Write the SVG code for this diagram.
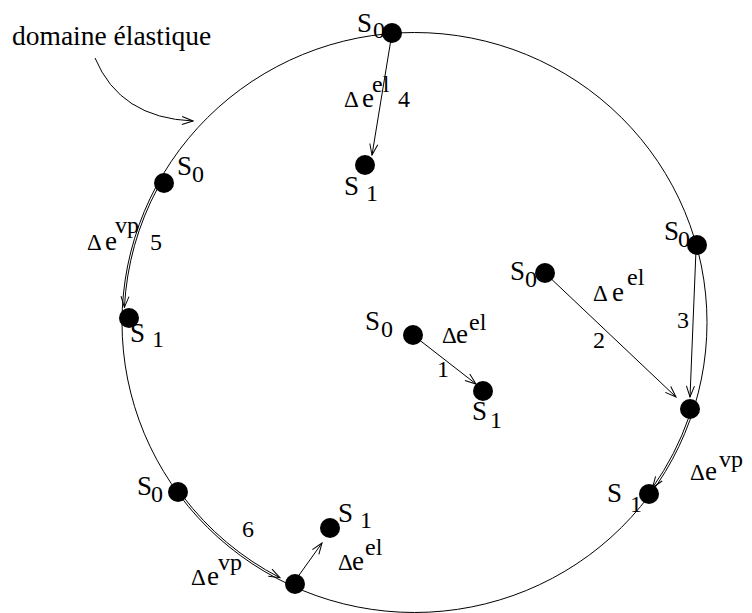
<svg xmlns="http://www.w3.org/2000/svg" width="752" height="613" viewBox="0 0 752 613" font-family="'Liberation Serif', 'DejaVu Serif', 'Times New Roman', serif">
<style>
text{font-family:'Liberation Serif','DejaVu Serif','Times New Roman',serif;fill:#000}
.s{font-size:27px}
.d{font-size:24px}
.g{font-size:23px}
.e{font-size:27px}
.sup{font-size:24px}
.lbl{font-size:27.5px}
.dot{fill:#000}
.ln{fill:none;stroke:#000;stroke-width:1}
</style>
<defs>
<marker id="ah" viewBox="-12 -5 13 10" refX="0" refY="0" markerWidth="13" markerHeight="10" markerUnits="userSpaceOnUse" orient="auto">
<path d="M-11,-4 L0,0 L-11,4" fill="none" stroke="#000" stroke-width="1"/>
</marker>
</defs>
<rect width="752" height="613" fill="#fff"/>
<g id="domain">
<ellipse cx="414.5" cy="322.5" rx="292.5" ry="290" class="ln"/>
<text class="lbl" x="12" y="45">domaine élastique</text>
</g>
<g id="connectors">
<path class="ln" d="M95,58 Q120,118 193,121" marker-end="url(#ah)"/>
<path class="ln" d="M413,335 L476,384" marker-end="url(#ah)"/>
<path class="ln" d="M545,273 L676,397" marker-end="url(#ah)"/>
<path class="ln" d="M696,250 L690,397" marker-end="url(#ah)"/>
<path class="ln" d="M392,33 L372,155" marker-end="url(#ah)"/>
<path class="ln" d="M158,187.4 A290.5,288 0 0 0 124.4,307.4" marker-end="url(#ah)"/>
<path class="ln" d="M689.2,416.3 A290.5,288 0 0 1 652.5,487.7" marker-end="url(#ah)"/>
<path class="ln" d="M182.5,495.8 A290.5,288 0 0 0 279.9,577.7" marker-end="url(#ah)"/>
<path class="ln" d="M297,578 L322,543" marker-end="url(#ah)"/>
</g>
<g id="top-s0"><circle class="dot" cx="392" cy="33" r="10"/><text class="s" x="357" y="32">S</text><text class="d" x="373" y="38">0</text></g>
<g id="top-label"><text class="g" x="344" y="107">Δ</text><text class="e" x="362" y="107">e</text><text class="sup" x="372" y="92">el</text><text class="d" x="398" y="107">4</text></g>
<g id="top-s1"><circle class="dot" cx="365" cy="165" r="10"/><text class="s" x="344" y="195">S</text><text class="d" x="366" y="201">1</text></g>
<g id="left-s0"><circle class="dot" cx="164" cy="183" r="10"/><text class="s" x="177" y="175">S</text><text class="d" x="192" y="182">0</text></g>
<g id="left-label"><text class="g" x="87" y="250">Δ</text><text class="e" x="105" y="250">e</text><text class="sup" x="115" y="233">vp</text><text class="d" x="150" y="250">5</text></g>
<g id="left-s1"><circle class="dot" cx="129" cy="318" r="10"/><text class="s" x="130" y="342">S</text><text class="d" x="152" y="347">1</text></g>
<g id="center-s0"><circle class="dot" cx="413" cy="335" r="10"/><text class="s" x="365" y="330">S</text><text class="d" x="381" y="337">0</text></g>
<g id="center-label"><text class="g" x="442" y="343">Δ</text><text class="e" x="456" y="343">e</text><text class="sup" x="469" y="330">el</text><text class="d" x="437" y="377">1</text></g>
<g id="center-s1"><circle class="dot" cx="483" cy="391" r="10"/><text class="s" x="472" y="420">S</text><text class="d" x="490" y="428">1</text></g>
<g id="inner-s0"><circle class="dot" cx="545" cy="273" r="10"/><text class="s" x="510" y="280">S</text><text class="d" x="525" y="287">0</text></g>
<g id="inner-label"><text class="g" x="593" y="301">Δ</text><text class="e" x="612" y="301">e</text><text class="sup" x="627" y="285">el</text><text class="d" x="593" y="348">2</text></g>
<g id="right-s0"><circle class="dot" cx="697" cy="245" r="10"/><text class="s" x="664" y="240">S</text><text class="d" x="678" y="247">0</text><text class="d" x="677" y="328">3</text></g>
<g id="right-mid"><circle class="dot" cx="690" cy="409" r="10"/></g>
<g id="right-label"><text class="g" x="690" y="480">Δ</text><text class="e" x="705" y="480">e</text><text class="sup" x="719" y="467">vp</text></g>
<g id="right-s1"><circle class="dot" cx="649" cy="494" r="10"/><text class="s" x="607" y="502">S</text><text class="d" x="630" y="512">1</text></g>
<g id="bottom-s0"><circle class="dot" cx="178" cy="492" r="10"/><text class="s" x="137" y="495">S</text><text class="d" x="151" y="502">0</text><text class="d" x="242" y="537">6</text></g>
<g id="bottom-vp-label"><text class="g" x="191" y="585">Δ</text><text class="e" x="207" y="585">e</text><text class="sup" x="218" y="570">vp</text></g>
<g id="bottom-mid"><circle class="dot" cx="295" cy="584" r="10"/></g>
<g id="bottom-s1"><circle class="dot" cx="330" cy="528" r="10"/><text class="s" x="338" y="522">S</text><text class="d" x="360" y="528">1</text></g>
<g id="bottom-el-label"><text class="g" x="338" y="570">Δ</text><text class="e" x="352" y="570">e</text><text class="sup" x="365" y="555">el</text></g>
</svg>
